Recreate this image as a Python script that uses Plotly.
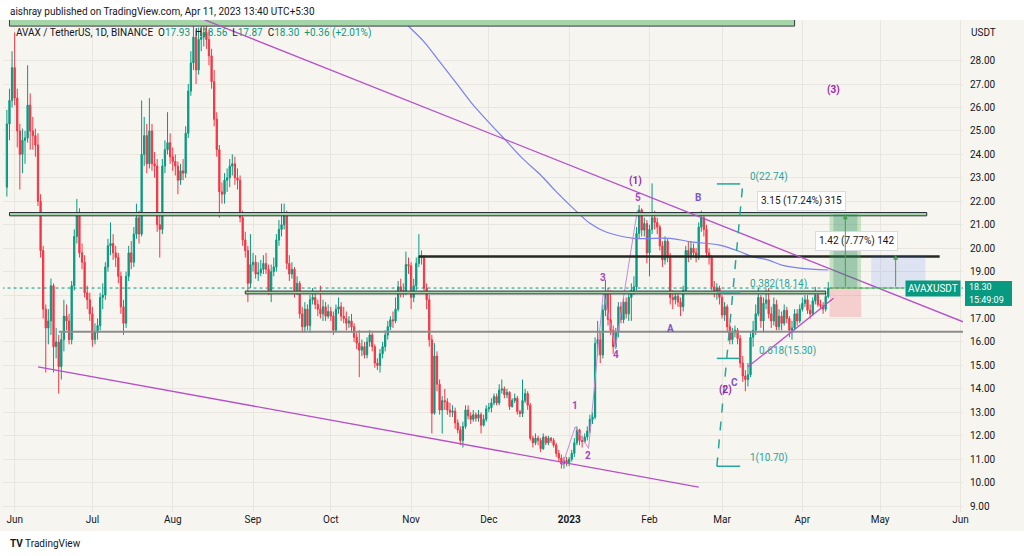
import pandas as pd
import plotly.graph_objects as go

# AVAX / TetherUS, 1D, Binance -- daily candles 29 May 2022 .. 11 Apr 2023
# (open of each day = previous close)
first_open = 22.6

# 29 May - 5 Aug 2022
close_a = [25.3, 26.3, 27.7, 26.4, 25.0, 24.0, 24.6, 24.7, 26.1, 25.0, 24.8, 24.4,
           22.0, 19.9, 17.4, 16.6, 16.9, 18.4, 15.8, 16.0, 14.95, 16.1, 17.1, 16.9, 16.1, 18.4, 20.5, 21.4, 19.8, 19.4, 18.1, 17.8, 17.2,
           16.1, 16.4, 16.7, 17.9, 18.0, 19.2, 20.1, 20.2, 19.8, 19.6, 18.8, 17.5, 16.8, 18.8, 19.8, 19.4, 20.6, 21.3, 20.6, 24.0, 24.8, 23.6, 25.0, 23.6, 23.5, 21.0, 20.8, 23.5, 24.2, 24.5, 23.9,
           23.7, 23.5, 22.9, 23.3, 23.2]
high_a = [25.9, 26.8, 28.4, 29.2, 26.8, 25.3, 25.1, 25.0, 27.8, 26.6, 25.6, 25.1,
          24.9, 22.3, 20.1, 17.6, 17.4, 18.7, 18.5, 16.6, 16.3, 16.4, 17.8, 17.6, 17.2, 18.6, 20.8, 22.1, 21.7, 20.2, 19.7, 18.4, 18.1,
          17.5, 16.8, 17.0, 18.1, 18.5, 19.4, 20.4, 21.1, 20.6, 20.1, 19.8, 19.0, 17.8, 19.0, 20.1, 20.3, 20.9, 21.9, 21.6, 26.3, 25.6, 25.3, 26.4, 25.3, 24.1, 23.8, 21.4, 23.8, 24.6, 25.8, 24.9,
          24.3, 24.0, 23.7, 23.6, 23.8]
low_a = [22.2, 24.6, 26.0, 26.1, 24.3, 22.5, 23.2, 23.6, 24.5, 24.2, 24.2, 23.9,
         21.8, 19.6, 17.0, 14.7, 15.9, 16.3, 14.7, 15.3, 13.8, 14.4, 15.6, 16.5, 15.9, 15.9, 18.2, 20.2, 19.6, 19.1, 17.9, 17.4, 16.9,
         15.8, 15.9, 16.1, 16.5, 17.4, 17.8, 19.0, 19.7, 19.5, 19.2, 18.5, 17.2, 16.3, 16.6, 18.6, 19.1, 19.2, 20.4, 20.2, 20.5, 23.5, 23.2, 23.4, 23.3, 23.0, 20.7, 19.6, 20.6, 23.2, 24.0, 23.6,
         23.3, 23.1, 22.3, 22.7, 22.9]

# 6 Aug - 30 Sep 2022
close_b = [24.9, 26.7, 27.9, 29.0, 27.6, 28.9, 29.0, 29.2, 28.9, 28.2, 27.1, 25.5, 24.2, 22.4, 22.3, 22.9, 23.0, 23.5, 23.6, 23.0, 22.9, 21.3, 20.35, 19.9, 18.5, 19.3,
           19.4, 18.9, 18.95, 19.1, 19.35, 19.1, 18.2, 19.0, 19.2, 20.35, 20.8, 21.0, 21.5, 19.35, 18.9, 19.1, 18.2, 18.5, 17.2, 16.65, 17.4, 16.7, 17.8, 17.9, 17.6, 17.4, 17.2, 17.5, 17.1, 17.3]
high_b = [25.2, 27.0, 28.4, 29.9, 29.3, 29.4, 30.0, 29.8, 30.2, 29.3, 28.5, 27.6, 25.8, 24.4, 22.8, 23.2, 23.4, 23.8, 24.0, 23.9, 23.4, 23.1, 21.6, 20.7, 20.1, 20.6,
          19.8, 19.7, 19.4, 19.5, 19.7, 19.8, 19.3, 19.3, 19.6, 20.6, 21.2, 21.9, 21.9, 21.6, 19.7, 19.4, 19.2, 18.8, 18.6, 17.5, 17.7, 17.6, 18.0, 18.3, 18.1, 17.8, 18.4, 17.8, 17.7, 17.6]
low_b = [23.0, 24.7, 26.5, 27.6, 27.0, 27.4, 28.4, 28.6, 28.5, 27.8, 26.8, 25.2, 23.9, 21.3, 21.9, 21.9, 22.4, 22.6, 23.1, 22.7, 22.5, 21.1, 20.1, 19.6, 17.7, 18.3,
         19.0, 18.7, 18.6, 18.8, 18.9, 18.9, 18.0, 17.7, 18.8, 19.0, 20.1, 20.5, 20.8, 19.1, 18.6, 18.7, 17.9, 18.0, 17.0, 16.4, 16.4, 16.5, 16.4, 17.6, 17.4, 17.1, 17.0, 16.9, 16.9, 17.0]

# 1 Oct - 25 Nov 2022
close_c = [17.1, 16.5, 17.4, 17.5, 17.1, 17.0, 16.8, 16.9, 16.65, 16.2, 15.95, 15.65, 15.8, 15.45, 16.0, 16.3, 15.8, 15.1, 15.0, 15.5, 15.8, 16.3, 16.65, 16.95, 16.9, 17.4, 18.35, 18.2, 18.15, 19.3, 19.25,
           17.9, 18.4, 19.35, 19.65, 19.6, 18.3, 17.8, 16.1, 12.96, 15.4, 14.2, 13.1, 13.5, 13.45, 13.1, 13.0, 13.05, 12.55, 12.25, 11.8, 12.4, 13.1, 12.85, 12.7, 12.9]
high_c = [17.5, 17.3, 17.6, 17.9, 17.7, 17.5, 17.3, 17.1, 17.2, 16.8, 16.4, 16.5, 16.1, 16.0, 16.2, 16.5, 16.4, 15.9, 15.3, 15.7, 16.0, 16.5, 16.9, 17.1, 17.3, 17.9, 18.6, 18.7, 18.5, 19.85, 19.6,
          19.4, 18.7, 19.6, 20.6, 19.9, 19.7, 18.5, 18.0, 16.3, 15.95, 15.6, 14.4, 13.7, 14.0, 13.6, 13.4, 13.3, 13.2, 12.7, 12.4, 12.6, 13.3, 13.3, 13.0, 13.1]
low_c = [16.9, 16.3, 16.4, 17.2, 16.9, 16.8, 16.5, 16.6, 16.4, 16.0, 15.7, 14.5, 15.4, 15.3, 15.3, 15.8, 15.6, 14.9, 14.8, 14.7, 15.3, 15.6, 16.1, 16.5, 16.6, 16.8, 17.3, 17.9, 17.9, 18.0, 18.9,
         17.4, 17.7, 18.2, 19.2, 19.3, 18.1, 17.4, 15.8, 12.1, 12.9, 13.9, 12.9, 12.1, 13.1, 12.9, 12.8, 12.8, 12.3, 12.1, 11.6, 11.5, 12.3, 12.7, 12.5, 12.6]

# 26 Nov 2022 - 20 Jan 2023
close_d = [12.75, 12.9, 12.45, 12.7, 13.15,
           13.2, 13.4, 13.67, 13.4, 13.95, 14.0, 13.75, 13.85, 13.25, 13.5, 13.6, 13.03, 12.95, 13.5, 13.8, 13.3, 11.9, 11.7, 11.9, 11.8, 11.45, 11.95, 11.7, 11.9, 11.8, 11.6, 11.25, 11.05, 10.8, 10.95, 10.85,
           11.0, 11.25, 11.7, 12.25, 11.8, 11.75, 11.95, 12.2, 12.7, 12.8, 15.94, 16.1, 15.45, 17.36, 18.15, 16.95, 16.5, 15.8, 16.4, 17.5]
high_d = [13.0, 13.1, 13.0, 12.9, 13.3,
          13.4, 13.6, 13.8, 13.8, 14.2, 14.4, 14.1, 14.0, 13.9, 13.6, 13.8, 13.7, 13.1, 14.4, 14.0, 13.9, 13.4, 12.0, 12.1, 12.0, 11.9, 12.1, 12.0, 12.0, 11.95, 11.9, 11.7, 11.4, 11.2, 11.1, 11.1,
          11.1, 11.4, 11.9, 12.4, 12.3, 12.0, 12.1, 12.4, 12.9, 13.0, 16.2, 16.9, 16.4, 17.6, 18.64, 18.3, 18.2, 16.7, 16.6, 17.7]
low_d = [12.6, 12.6, 12.1, 12.4, 12.6,
         13.0, 13.0, 13.3, 13.3, 13.3, 13.8, 13.6, 13.6, 13.1, 13.2, 13.4, 12.9, 12.8, 12.8, 13.4, 13.1, 11.8, 11.5, 11.6, 11.6, 11.3, 11.4, 11.6, 11.6, 11.7, 11.5, 11.1, 10.9, 10.6, 10.6, 10.7,
         10.7, 10.9, 11.1, 11.6, 11.6, 11.5, 11.7, 11.8, 12.1, 12.5, 12.7, 15.4, 15.1, 15.3, 17.1, 16.7, 16.3, 15.5, 15.7, 16.2]

# 21 Jan - 8 Mar 2023
close_e = [16.95, 17.7, 17.2, 17.9, 18.2, 18.35, 20.63, 21.63, 20.77, 21.05, 19.8,
           20.8, 21.3, 21.1, 20.9, 20.1, 19.5, 20.3, 19.6, 17.9, 17.8, 17.95, 17.7, 17.5, 18.2, 19.9, 19.7, 20.0, 19.8, 19.6, 20.9, 21.3, 20.8, 19.8, 19.6, 18.35, 18.1, 18.3, 17.9,
           17.15, 17.5, 16.65, 16.1, 16.4, 16.5, 16.15, 15.1]
high_e = [17.7, 17.9, 17.9, 18.1, 18.5, 18.8, 20.9, 21.84, 21.7, 21.3, 21.2,
          21.0, 22.76, 21.6, 21.3, 21.0, 20.3, 20.5, 20.4, 19.8, 18.2, 18.1, 18.1, 17.9, 18.4, 20.1, 20.3, 20.3, 20.2, 20.0, 21.1, 21.6, 21.4, 21.0, 20.0, 19.7, 18.6, 18.5, 18.4,
          18.0, 17.7, 17.6, 16.8, 16.6, 16.7, 16.6, 16.3]
low_e = [16.8, 16.8, 17.0, 16.9, 16.9, 18.0, 18.2, 20.4, 20.5, 20.5, 19.35,
         18.8, 20.6, 20.8, 20.6, 19.9, 19.2, 19.3, 19.4, 17.6, 17.4, 17.6, 17.5, 17.1, 17.3, 18.1, 19.4, 19.5, 19.6, 19.4, 19.5, 20.7, 20.5, 19.6, 19.3, 18.2, 17.9, 17.8, 17.6,
         17.0, 16.9, 16.4, 15.9, 15.9, 16.2, 15.9, 14.9]

# 9 Mar - 11 Apr 2023
close_f = [14.55, 14.4, 14.6, 16.2, 16.5, 17.2, 17.9, 16.9, 17.65, 17.8, 17.2, 16.9, 17.6, 16.65, 17.1, 16.8, 17.35, 17.0, 16.5, 16.6, 17.2, 16.9, 17.4,
           17.65, 17.8, 17.35, 17.2, 17.75, 18.0, 17.6, 17.55, 17.4, 17.94, 18.30]
high_f = [15.4, 14.8, 15.1, 16.4, 16.9, 17.6, 18.3, 18.0, 17.9, 18.25, 18.3, 17.5, 17.9, 17.8, 17.4, 17.3, 17.6, 17.5, 17.1, 16.9, 17.4, 17.4, 17.6,
          17.9, 18.0, 18.0, 17.6, 17.9, 18.35, 18.1, 17.8, 17.7, 18.1, 18.56]
low_f = [14.3, 13.9, 14.1, 14.5, 15.8, 16.3, 17.1, 16.6, 16.4, 17.4, 17.0, 16.6, 16.7, 16.5, 16.5, 16.5, 16.7, 16.8, 16.2, 16.1, 16.5, 16.7, 16.8,
         17.3, 17.5, 17.2, 17.0, 17.1, 17.6, 17.5, 17.4, 17.2, 17.3, 17.87]

# moving average (blue) as traced on the chart
ma_dates = ["2022-10-24", "2022-10-29", "2022-11-06", "2022-11-12", "2022-11-19", "2022-11-25",
            "2022-12-02", "2022-12-08", "2022-12-14", "2022-12-21", "2022-12-27", "2023-01-04",
            "2023-01-09", "2023-01-15", "2023-01-26", "2023-02-09", "2023-02-17", "2023-02-28",
            "2023-03-08", "2023-03-13", "2023-03-19", "2023-03-24", "2023-03-31", "2023-04-11"]
ma_values = [30.3, 29.68, 28.80, 27.95, 26.96, 26.10, 25.25, 24.54, 23.83, 23.12, 22.41, 21.55,
             21.06, 20.70, 20.42, 20.42, 20.27, 20.13, 19.85, 19.63, 19.49, 19.28, 19.15, 19.07]

# impulse wave sketch 0-1-2-3-4-5
wave_dates = ["2022-12-29 10:00", "2023-01-03 08:00", "2023-01-08 12:00",
              "2023-01-14 05:00", "2023-01-18 20:00", "2023-01-27 08:00"]
wave_values = [10.75, 12.38, 11.46, 18.14, 15.73, 21.62]

fib_levels = ["0", "0.382", "0.618", "1"]
fib_prices = [22.74, 18.14, 15.30, 10.70]

level_prices = [21.45, 19.65, 18.11, 16.44]
entry_price = 18.30
target_prices = [21.45, 19.72]
stop_price = 17.07
target_labels = ["3.15 (17.24%) 315", "1.42 (7.77%) 142"]

price_ticks = list(range(9, 29))
month_ticks = ["2022-06-01", "2022-07-01", "2022-08-01", "2022-09-01", "2022-10-01", "2022-11-01",
               "2022-12-01", "2023-01-01", "2023-02-01", "2023-03-01", "2023-04-01", "2023-05-01", "2023-06-01"]
month_labels = ["Jun", "Jul", "Aug", "Sep", "Oct", "Nov", "Dec", "<b>2023</b>", "Feb", "Mar", "Apr", "May", "Jun"]

wave_labels = ["(1)", "5", "B", "3", "4", "A", "1", "2", "(2)", "C", "(3)"]

closes = close_a + close_b + close_c + close_d + close_e + close_f
highs = high_a + high_b + high_c + high_d + high_e + high_f
lows = low_a + low_b + low_c + low_d + low_e + low_f
opens = [first_open] + closes[:-1]
dates = pd.date_range("2022-05-29", periods=len(closes), freq="D")

UP = "#089981"
DOWN = "#f23645"
BG = "#f7f5f0"
GRID = "#e9e6e0"
TXT = "#131722"
PURPLE = "#b64fc8"
FIB = "#26a69a"
FONT = "Roboto"


# pixel helpers for things pinned to the screen (plot area 3..963 x 20..512)
def px_x(px):
    return (px - 3) / 960


def px_y(py):
    return (512 - py) / 492


fig = go.Figure()
fig.add_trace(go.Candlestick(
    x=dates, open=opens, high=highs, low=lows, close=closes,
    increasing=dict(line=dict(color=UP, width=1), fillcolor=UP),
    decreasing=dict(line=dict(color=DOWN, width=1), fillcolor=DOWN),
    whiskerwidth=0, hoverinfo="skip", showlegend=False))
fig.add_trace(go.Scatter(x=ma_dates, y=ma_values, mode="lines",
                         line=dict(color="#7a80f0", width=1.2, shape="spline"),
                         hoverinfo="skip", showlegend=False))
fig.add_trace(go.Scatter(x=wave_dates, y=wave_values, mode="lines",
                         line=dict(color="#c98bd6", width=1),
                         hoverinfo="skip", showlegend=False))

shapes = [
    # white header / footer strips
    dict(type="rect", xref="paper", yref="paper", x0=px_x(-5), x1=px_x(1030), y0=px_y(20), y1=px_y(-5),
         fillcolor="white", line_width=0, layer="below"),
    dict(type="rect", xref="paper", yref="paper", x0=px_x(-5), x1=px_x(1030), y0=px_y(560), y1=px_y(531),
         fillcolor="white", line_width=0, layer="below"),
    # resistance zone at the very top
    dict(type="rect", x0="2022-05-30", x1="2023-03-29", y0=29.47, y1=31,
         fillcolor="#a5d6a7", line=dict(color="#363a45", width=1)),
    # horizontal levels
    dict(type="rect", x0="2022-05-30", x1="2023-05-19", y0=level_prices[0] - 0.07, y1=level_prices[0] + 0.07,
         fillcolor="#a5d6a7", line=dict(color="#2a2e39", width=1)),
    dict(type="line", x0="2022-11-04", x1="2023-05-24", y0=level_prices[1], y1=level_prices[1],
         line=dict(color="#222a22", width=2.5)),
    dict(type="rect", x0="2022-08-29", x1="2023-04-10", y0=level_prices[2] - 0.06, y1=level_prices[2] + 0.06,
         fillcolor="#a5d6a7", line=dict(color="#2a2e39", width=1)),
    dict(type="line", x0="2022-06-18", x1="2023-06-05", y0=level_prices[3], y1=level_prices[3],
         line=dict(color="#8c8c8c", width=2)),
    # trend lines
    dict(type="line", x0="2022-08-01", y0=30.28, x1="2023-06-02", y1=16.86, line=dict(color=PURPLE, width=1.3)),
    dict(type="line", x0="2022-06-10", y0=14.94, x1="2023-02-20", y1=9.81, line=dict(color=PURPLE, width=1.3)),
    dict(type="line", x0="2023-03-11", y0=14.94, x1="2023-04-13", y1=17.86, line=dict(color=PURPLE, width=1.3)),
    # fib retracement
    dict(type="line", x0="2023-02-27", y0=fib_prices[3], x1="2023-03-09", y1=fib_prices[0],
         line=dict(color=FIB, width=1.5, dash="dash")),
    # last price
    dict(type="line", xref="x", x0="2022-05-20", x1="2023-06-05", y0=entry_price, y1=entry_price,
         line=dict(color=UP, width=1, dash="dot")),
    # long position tool
    dict(type="rect", x0="2023-04-11 12:00", x1="2023-04-23 16:00", y0=entry_price, y1=target_prices[0],
         fillcolor="rgba(76,175,80,0.28)", line_width=0),
    dict(type="rect", x0="2023-04-13 00:00", x1="2023-04-22 06:00", y0=entry_price, y1=target_prices[0],
         fillcolor="rgba(0,105,92,0.20)", line_width=0),
    dict(type="rect", x0="2023-04-11 12:00", x1="2023-04-23 16:00", y0=stop_price, y1=entry_price,
         fillcolor="rgba(242,54,69,0.20)", line_width=0),
    dict(type="rect", x0="2023-04-27 14:00", x1="2023-05-18 12:00", y0=entry_price, y1=target_prices[1],
         fillcolor="rgba(41,98,255,0.12)", line_width=0),
    dict(type="line", x0="2023-04-11 12:00", x1="2023-05-10", y0=entry_price, y1=entry_price,
         line=dict(color="#4caf50", width=1)),
    # axis price tag background (last price + countdown)
    dict(type="rect", xref="paper", yref="paper", x0=px_x(965), x1=px_x(1012), y0=px_y(306), y1=px_y(281),
         fillcolor=UP, line_width=0),
]
for p in fib_prices:
    shapes.append(dict(type="line", x0="2023-02-27", x1="2023-03-08", y0=p, y1=p,
                       line=dict(color=FIB, width=1.5)))

annotations = [
    dict(xref="paper", yref="paper", x=px_x(8), y=px_y(12), xanchor="left", yanchor="middle", showarrow=False,
         text="aishray published on TradingView.com, Apr 11, 2023 13:40 UTC+5:30",
         font=dict(size=10, color=TXT, family=FONT)),
    dict(xref="paper", yref="paper", x=px_x(14), y=px_y(33), xanchor="left", yanchor="middle", showarrow=False,
         text=("AVAX / TetherUS, 1D, BINANCE  O<span style='color:%s'>17.93</span>  H<span style='color:%s'>18.56</span>"
               "  L<span style='color:%s'>17.87</span>  C<span style='color:%s'>18.30</span>  "
               "<span style='color:%s'>+0.36 (+2.01%%)</span>") % (UP, UP, UP, UP, UP),
         font=dict(size=10, color=TXT, family=FONT)),
    dict(xref="paper", yref="paper", x=px_x(969), y=px_y(32), xanchor="left", yanchor="middle", showarrow=False,
         text="USDT", font=dict(size=10, color=TXT, family=FONT)),
    dict(xref="paper", yref="paper", x=px_x(8), y=px_y(543), xanchor="left", yanchor="middle", showarrow=False,
         text="<b>TV</b> TradingView", font=dict(size=10, color=TXT, family=FONT)),
    # price tags
    dict(xref="paper", yref="y", x=px_x(961), y=entry_price, xanchor="right", yanchor="middle", showarrow=False,
         text="AVAXUSDT", bgcolor=UP, borderpad=2, font=dict(size=10, color="white", family=FONT)),
    dict(xref="paper", yref="paper", x=px_x(968), y=px_y(287), xanchor="left", yanchor="middle",
         showarrow=False, text="18.30", borderpad=0,
         font=dict(size=9, color="white", family=FONT)),
    dict(xref="paper", yref="paper", x=px_x(968), y=px_y(300), xanchor="left", yanchor="middle",
         showarrow=False, text="15:49:09", borderpad=0,
         font=dict(size=9, color="white", family=FONT)),
    # position labels
    dict(xref="paper", yref="paper", x=px_x(846), y=px_y(201), showarrow=False, text=target_labels[0],
         bgcolor="white", bordercolor="#d9dbe0", borderwidth=1, borderpad=3,
         font=dict(size=10, color=TXT, family=FONT)),
    dict(xref="paper", yref="paper", x=px_x(898), y=px_y(241), showarrow=False, text=target_labels[1],
         bgcolor="white", bordercolor="#d9dbe0", borderwidth=1, borderpad=3,
         font=dict(size=10, color=TXT, family=FONT)),
    dict(x="2023-04-17 14:00", y=target_prices[0], ax="2023-04-17 14:00", ay=entry_price, axref="x", ayref="y",
         showarrow=True, arrowhead=2, arrowsize=1, arrowwidth=1, arrowcolor="#43a047", text=""),
    dict(x="2023-05-07 00:00", y=target_prices[1], ax="2023-05-07 00:00", ay=entry_price, axref="x", ayref="y",
         showarrow=True, arrowhead=2, arrowsize=1, arrowwidth=1, arrowcolor="#43a047", text=""),
]

fib_px = [(748, 177), (748, 284), (757, 351), (748, 458)]
for lvl, p, (fx, fy) in zip(fib_levels, fib_prices, fib_px):
    annotations.append(dict(xref="paper", yref="paper", x=px_x(fx), y=px_y(fy), xanchor="left", yanchor="middle",
                            showarrow=False, text="%s(%.2f)" % (lvl, p),
                            font=dict(size=10, color=FIB, family=FONT)))

label_px = [(644, 173), (638, 197), (703, 197), (603, 277), (616, 362), (676, 328),
            (575, 413), (588, 463), (734, 398), (740, 390), (842, 82)]
for lab, (lx, ly) in zip(wave_labels, label_px):
    if lab in ("A", "B", "C"):
        col = "#7e57c2"
    elif lab.startswith("("):
        col = "#9c27b0"
    else:
        col = "#ab47bc"
    annotations.append(dict(xref="paper", yref="paper", x=px_x(lx), y=px_y(ly), showarrow=False,
                            text="<b>%s</b>" % lab, font=dict(size=10, color=col, family=FONT)))

# the 18.00 axis label sits under the last-price tag, so leave it blank
price_ticktext = ["" if v == 18 else "%.2f" % v for v in price_ticks]

fig.update_layout(
    width=1024, height=556,
    margin=dict(l=3, r=61, t=20, b=44),
    paper_bgcolor=BG, plot_bgcolor=BG,
    showlegend=False, hovermode=False,
    shapes=shapes, annotations=annotations,
    font=dict(family=FONT, color=TXT, size=10),
)
fig.update_xaxes(type="date", range=["2022-05-27 12:00", "2023-06-02"], rangeslider=dict(visible=False),
                 tickvals=month_ticks, ticktext=month_labels, showgrid=True, gridcolor=GRID, gridwidth=1,
                 zeroline=False, showline=False, ticks="", tickfont=dict(size=10, color=TXT, family=FONT))
fig.update_yaxes(side="right", range=[8.75, 29.73], tickvals=price_ticks,
                 ticktext=price_ticktext, showgrid=True, gridcolor=GRID, gridwidth=1,
                 zeroline=False, showline=False, ticks="", ticklabelstandoff=6,
                 tickfont=dict(size=10, color=TXT, family=FONT))

# the page body has a default 8px margin; drop it so the figure fills the window
fig.write_html("out.html", config={"displayModeBar": False},
               post_script="document.body.style.margin='0';document.body.style.overflow='hidden';")
